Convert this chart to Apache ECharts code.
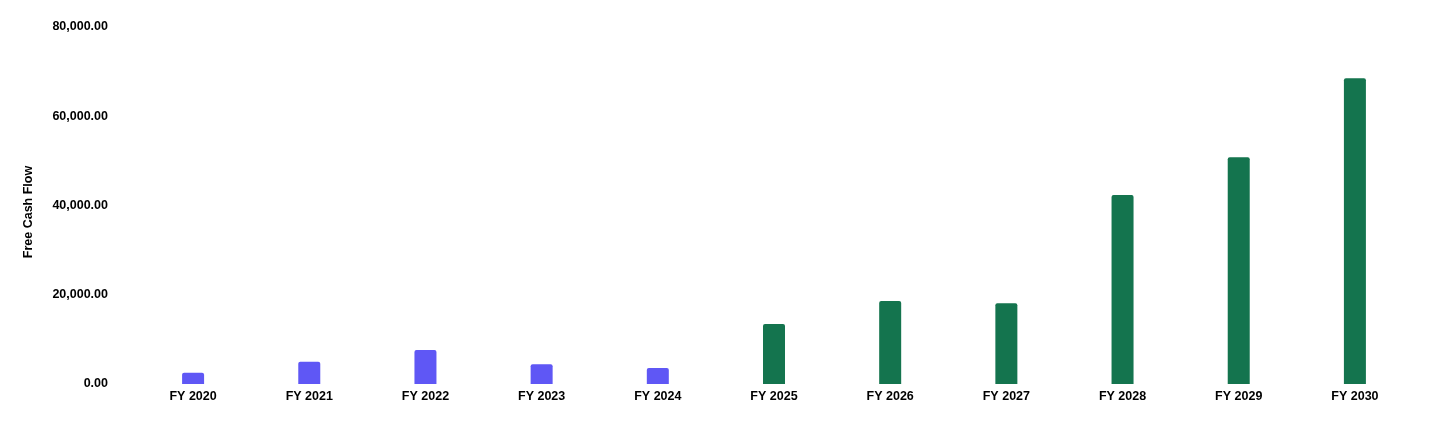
<!DOCTYPE html>
<html><head><meta charset="utf-8">
<script src="https://cdn.jsdelivr.net/npm/echarts@6/dist/echarts.min.js"></script>
<style>html,body{margin:0;padding:0;background:#fff}#c{width:1456px;height:424px}</style>
</head><body><div id="c"></div>
<script>
const categories = ['FY 2020','FY 2021','FY 2022','FY 2023','FY 2024','FY 2025','FY 2026','FY 2027','FY 2028','FY 2029','FY 2030'];
const values = [2530, 5000, 7620, 4410, 3590, 13450, 18600, 18080, 42350, 50800, 68500];
const historicalCount = 5;
const colorHistorical = '#5f57f5';
const colorProjected = '#14744e';
const chart = echarts.init(document.getElementById('c'));
chart.setOption({
  animation:false,
  grid:{left:135,right:43,top:27,bottom:40},
  xAxis:{type:'category',data:categories,
    axisLine:{show:false},axisTick:{show:false},
    axisLabel:{color:'#000',fontWeight:'bold',fontSize:12.5,fontFamily:'Liberation Sans, Arial, sans-serif',margin:6}},
  yAxis:{type:'value',min:0,max:80000,interval:20000,
    name:'Free Cash Flow',nameLocation:'middle',nameGap:100,
    nameTextStyle:{color:'#000',fontWeight:'bold',fontSize:12.5,fontFamily:'Liberation Sans, Arial, sans-serif',padding:[0,13,0,0]},
    splitLine:{show:false},axisLine:{show:false},axisTick:{show:false},
    axisLabel:{color:'#000',fontWeight:'bold',fontSize:12.5,margin:27,fontFamily:'Liberation Sans, Arial, sans-serif',
      formatter:v=>v.toLocaleString('en-US',{minimumFractionDigits:2,maximumFractionDigits:2})}},
  series:[{type:'bar',barWidth:22,
    data:values.map((v,i)=>({value:v,itemStyle:{color:i<historicalCount?colorHistorical:colorProjected}})),
    itemStyle:{borderRadius:[2,2,0,0]}}]
});
</script></body></html>
